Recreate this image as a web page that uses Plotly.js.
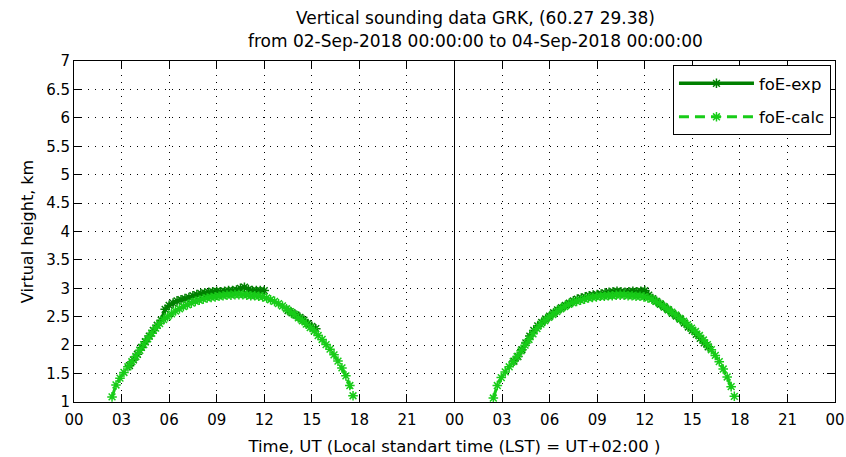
<!DOCTYPE html>
<html>
<head>
<meta charset="utf-8">
<script src="https://cdn.plot.ly/plotly-3.0.1.min.js"></script>
<style>html,body{margin:0;padding:0;background:#fff;}#chart{width:846px;height:457px;}</style>
</head>
<body>
<div id="chart"></div>
<script>
// ---- data (hours UT within each day, virtual height km) ----
const dayOffsets = [0, 24];

const calcTimeDay1 = [2.4,2.65,2.9,3.15,3.4,3.65,3.9,4.15,4.4,4.65,4.9,5.15,5.4,5.65,5.9,6.15,6.4,6.65,6.9,7.15,7.4,7.65,7.9,8.15,8.4,8.65,8.9,9.15,9.4,9.65,9.9,10.15,10.4,10.65,10.9,11.15,11.4,11.65,11.9,12.15,12.4,12.65,12.9,13.15,13.4,13.65,13.9,14.15,14.4,14.65,14.9,15.15,15.4,15.65,15.9,16.15,16.4,16.65,16.9,17.15,17.4,17.6];
const calcDay1 = [1.09,1.30,1.42,1.52,1.62,1.71,1.80,1.91,2.01,2.11,2.21,2.30,2.38,2.45,2.50,2.55,2.60,2.64,2.68,2.71,2.74,2.77,2.79,2.81,2.83,2.84,2.85,2.86,2.87,2.88,2.88,2.89,2.89,2.89,2.88,2.87,2.87,2.86,2.85,2.83,2.80,2.77,2.73,2.69,2.64,2.59,2.54,2.48,2.43,2.37,2.31,2.25,2.17,2.10,2.01,1.93,1.83,1.72,1.60,1.46,1.29,1.11];

const expTimeDay1 = [3.5,3.75,4.0,4.25,4.5,4.75,5.0,5.25,5.5,5.75,6.0,6.25,6.5,6.75,7.0,7.25,7.5,7.75,8.0,8.25,8.5,8.75,9.0,9.25,9.5,9.75,10.0,10.25,10.5,10.75,11.0,11.25,11.5,11.75,12.0,12.5,13.5,13.75,14.0,14.25,14.5,14.75,15.0,15.25];
const expDay1 = [1.64,1.74,1.84,1.96,2.06,2.16,2.26,2.35,2.44,2.63,2.70,2.74,2.78,2.80,2.82,2.84,2.87,2.89,2.91,2.92,2.93,2.94,2.95,2.94,2.95,2.96,2.96,2.97,3.00,3.02,2.98,2.96,2.96,2.96,2.96,null,2.61,2.57,2.53,2.49,2.44,2.38,2.33,2.29];

const calcTimeDay2 = [2.45,2.7,2.95,3.2,3.45,3.7,3.95,4.2,4.45,4.7,4.95,5.2,5.45,5.7,5.95,6.2,6.45,6.7,6.95,7.2,7.45,7.7,7.95,8.2,8.45,8.7,8.95,9.2,9.45,9.7,9.95,10.2,10.45,10.7,10.95,11.2,11.45,11.7,11.95,12.2,12.45,12.7,12.95,13.2,13.45,13.7,13.95,14.2,14.45,14.7,14.95,15.2,15.45,15.7,15.95,16.2,16.45,16.7,16.95,17.2,17.45,17.65];
const calcDay2 = [1.07,1.29,1.43,1.53,1.62,1.71,1.80,1.90,2.00,2.10,2.20,2.29,2.37,2.43,2.49,2.54,2.59,2.64,2.68,2.72,2.75,2.77,2.79,2.81,2.83,2.84,2.85,2.86,2.86,2.87,2.87,2.88,2.88,2.88,2.87,2.87,2.86,2.86,2.85,2.83,2.81,2.77,2.73,2.68,2.63,2.58,2.53,2.47,2.42,2.36,2.30,2.24,2.17,2.09,2.01,1.92,1.82,1.71,1.58,1.44,1.27,1.10];

const expTimeDay2 = [3.75,4.0,4.25,4.5,4.75,5.0,5.25,5.5,5.75,6.0,6.25,6.5,6.75,7.0,7.25,7.5,7.75,8.0,8.25,8.5,8.75,9.0,9.25,9.5,9.75,10.0,10.25,10.5,10.75,11.0,11.25,11.5,11.75,12.0,12.25,12.5,12.75,13.0,13.25,13.5,13.75,14.0,14.25,14.5,14.75,15.0,15.25,15.5,15.75,16.0];
const expDay2 = [1.72,1.80,1.92,2.04,2.16,2.26,2.34,2.40,2.46,2.51,2.57,2.62,2.66,2.70,2.74,2.78,2.81,2.83,2.85,2.87,2.88,2.89,2.90,2.92,2.93,2.94,2.95,2.94,2.93,2.94,2.95,2.94,2.95,2.96,2.88,2.82,2.77,2.72,2.67,2.62,2.56,2.51,2.46,2.39,2.32,2.26,2.19,2.12,2.04,1.97];

const tickValues = [0,3,6,9,12,15,18,21,24,27,30,33,36,39,42,45,48];
const tickLabels = ['00','03','06','09','12','15','18','21','00','03','06','09','12','15','18','21','00'];
const seriesNames = ['foE-exp','foE-calc'];
const titleLines = ['Vertical sounding data GRK, (60.27 29.38)','from 02-Sep-2018 00:00:00 to 04-Sep-2018 00:00:00'];

// ---- build traces ----
function join(t1, v1, t2, v2) {
  const x = [], y = [];
  t1.forEach((t, i) => { x.push(t + dayOffsets[0]); y.push(v1[i]); });
  x.push(null); y.push(null);
  t2.forEach((t, i) => { x.push(t + dayOffsets[1]); y.push(v2[i]); });
  return {x, y};
}
const expXY = join(expTimeDay1, expDay1, expTimeDay2, expDay2);
const calcXY = join(calcTimeDay1, calcDay1, calcTimeDay2, calcDay2);

const darkGreen = '#008000';
const lightGreen = '#18cc18';

const traces = [
  {x: expXY.x, y: expXY.y, name: seriesNames[0], legendgroup: 'a', type: 'scatter', mode: 'lines+markers',
   connectgaps: false,
   line: {color: darkGreen, width: 3.5},
   marker: {symbol: 'asterisk-open', size: 8, color: darkGreen, line: {color: darkGreen, width: 1.5}}},
  {x: calcXY.x, y: calcXY.y, name: seriesNames[1], legendgroup: 'b', type: 'scatter', mode: 'lines+markers',
   connectgaps: false,
   line: {color: lightGreen, width: 3, dash: '10px,6px'},
   marker: {symbol: 'asterisk-open', size: 8, color: lightGreen, line: {color: lightGreen, width: 1.5}}}
];

const font = 'DejaVu Sans, Verdana, sans-serif';

const layout = {
  width: 846, height: 457,
  margin: {l: 74, r: 11, t: 61, b: 55},
  paper_bgcolor: '#ffffff', plot_bgcolor: '#ffffff',
  font: {family: font, size: 15, color: '#000'},
  showlegend: true,
  legend: {x: 0.9947, xanchor: 'right', y: 0.988, yanchor: 'top',
           bordercolor: '#000', borderwidth: 1, bgcolor: '#fff',
           traceorder: 'grouped', tracegroupgap: 9, itemwidth: 75,
           font: {family: font, size: 16.5, color: '#000'}},
  xaxis: {range: [0, 48], tickmode: 'array', tickvals: tickValues, ticktext: tickLabels,
          ticks: 'inside', ticklen: 8, tickcolor: '#000', tickwidth: 1,
          showline: true, linecolor: '#000', linewidth: 1, mirror: 'ticks',
          showgrid: true, gridcolor: '#000', gridwidth: 1, griddash: '1px,6px',
          zeroline: false, tickfont: {family: font, size: 15}, ticklabelstandoff: 4,
          title: {text: 'Time, UT (Local standart time (LST) = UT+02:00 )', font: {family: font, size: 16.5}, standoff: 12}},
  yaxis: {range: [1, 7], dtick: 0.5, tick0: 1,
          ticks: 'inside', ticklen: 8, tickcolor: '#000', tickwidth: 1,
          showline: true, linecolor: '#000', linewidth: 1, mirror: 'ticks',
          showgrid: true, gridcolor: '#000', gridwidth: 1, griddash: '1px,6px',
          zeroline: false, tickfont: {family: font, size: 15},
          title: {text: 'Virtual height, km', font: {family: font, size: 16}, standoff: 8}},
  shapes: [
    {type: 'line', xref: 'x', yref: 'paper', x0: 24, x1: 24, y0: 0, y1: 1,
     line: {color: '#000', width: 1}}
  ],
  annotations: [
    {text: titleLines[0], xref: 'paper', yref: 'paper', x: 0.527, y: 1, yshift: 43,
     xanchor: 'center', yanchor: 'middle', showarrow: false, font: {family: font, size: 17}},
    {text: titleLines[1], xref: 'paper', yref: 'paper', x: 0.527, y: 1, yshift: 20,
     xanchor: 'center', yanchor: 'middle', showarrow: false, font: {family: font, size: 17}}
  ]
};

Plotly.newPlot('chart', traces, layout, {displayModeBar: false, staticPlot: true});
</script>
</body>
</html>
